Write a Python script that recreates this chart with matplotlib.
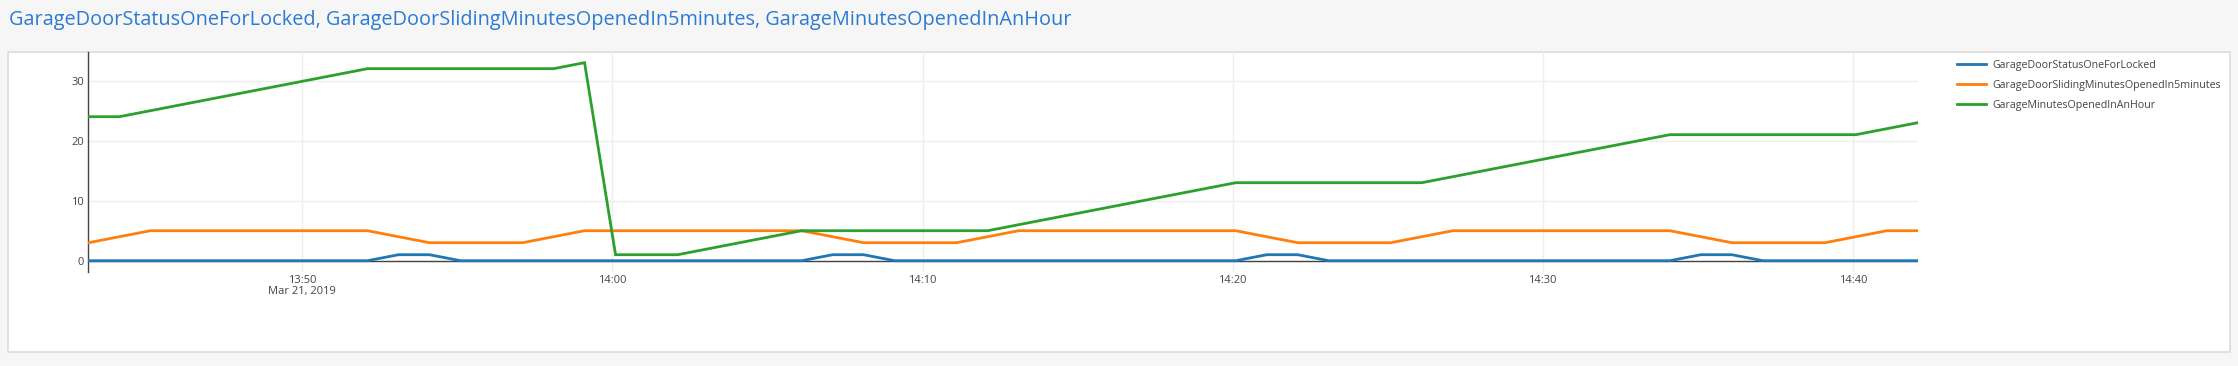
"""
Garage door sensor chart (plotly-style look, drawn with matplotlib)
"""

import matplotlib
matplotlib.use('Agg')
import matplotlib.pyplot as plt
from matplotlib.patches import Rectangle
import pandas as pd

DAY = '2019-03-21 '

# Vertices of each series (time, value)
status_times = ['13:43:06', '13:52:06', '13:53:06', '13:54:06', '13:55:06',
                '14:06:06', '14:07:06', '14:08:06', '14:09:06',
                '14:20:06', '14:21:06', '14:22:06', '14:23:06',
                '14:34:06', '14:35:06', '14:36:06', '14:37:06', '14:42:06']
status_values = [0, 0, 1, 1, 0,
                 0, 1, 1, 0,
                 0, 1, 1, 0,
                 0, 1, 1, 0, 0]

sliding_times = ['13:43:06', '13:45:06', '13:52:06', '13:54:06', '13:57:06',
                 '13:59:06', '14:06:06', '14:08:06', '14:11:06', '14:13:06',
                 '14:20:06', '14:22:06', '14:25:06', '14:27:06', '14:34:06',
                 '14:36:06', '14:39:06', '14:41:06', '14:42:06']
sliding_values = [3, 5, 5, 3, 3,
                  5, 5, 3, 3, 5,
                  5, 3, 3, 5, 5,
                  3, 3, 5, 5]

hour_times = ['13:43:06', '13:44:06', '13:52:06', '13:58:06', '13:59:06',
              '14:00:06', '14:02:06', '14:06:06', '14:12:06', '14:20:06',
              '14:26:06', '14:34:06', '14:40:06', '14:42:06']
hour_values = [24, 24, 32, 32, 33,
               1, 1, 5, 5, 13,
               13, 21, 21, 23]

series_names = ['GarageDoorStatusOneForLocked',
                'GarageDoorSlidingMinutesOpenedIn5minutes',
                'GarageMinutesOpenedInAnHour']
colors = ['#1f77b4', '#ff7f0e', '#2ca02c']

x_ticks = ['13:50', '14:00', '14:10', '14:20', '14:30', '14:40']
x_tick_labels = ['13:50\nMar 21, 2019', '14:00', '14:10', '14:20', '14:30', '14:40']
y_ticks = [0, 10, 20, 30]


def to_dt(times):
    return pd.to_datetime([DAY + t for t in times])


W, H = 2238, 366
fig = plt.figure(figsize=(W / 100, H / 100), dpi=100)
fig.patch.set_facecolor('#f6f6f6')

# white panel with light border, behind the axes
panel = Rectangle((8 / W, 1 - 352 / H), (2230 - 8) / W, (352 - 51.5) / H,
                  transform=fig.transFigure, facecolor='white',
                  edgecolor='#dcdcdc', linewidth=1.2, zorder=-5)
fig.patches.append(panel)

fig.text(9 / W, 1 - 20.5 / H, ', '.join(series_names), color='#2b7bd3',
         fontsize=14.3, family='Open Sans', va='center', ha='left')

ax = fig.add_axes([88.4 / W, 1 - 271.7 / H, (1917.9 - 88.4) / W, (271.7 - 51.7) / H])
ax.set_facecolor('none')
ax.set_zorder(1)

all_series = [(status_times, status_values),
              (sliding_times, sliding_values),
              (hour_times, hour_values)]
ax.axhline(0, color='#444444', linewidth=1, zorder=1)
for (t, v), name, c in zip(all_series, series_names, colors):
    ax.plot(to_dt(t), v, color=c, linewidth=2, label=name, zorder=3,
            solid_joinstyle='miter')

ax.set_xlim(pd.Timestamp(DAY + '13:43:06'), pd.Timestamp(DAY + '14:42:06'))
ax.set_ylim(-1.83, 34.83)

ax.set_xticks(to_dt([t + ':00' for t in x_ticks]))
ax.set_xticklabels(x_tick_labels, linespacing=1.0)
ax.set_yticks(y_ticks)
ax.grid(True, color='#eeeeee', linewidth=1)
ax.set_axisbelow(True)

for side in ['top', 'right', 'bottom']:
    ax.spines[side].set_visible(False)
ax.spines['left'].set_color('#444444')
ax.spines['left'].set_linewidth(1)
ax.tick_params(length=0, labelcolor='#444444', labelsize=8)
ax.tick_params(axis='x', pad=2.5)
ax.tick_params(axis='y', pad=3)
for lbl in ax.get_xticklabels() + ax.get_yticklabels():
    lbl.set_family('Open Sans')

leg = ax.legend(loc='upper left', bbox_to_anchor=(1957 / W, 1 - 60 / H),
                bbox_transform=fig.transFigure, frameon=False,
                prop={'family': 'Open Sans', 'size': 7.7},
                handlelength=2.7, handletextpad=0.6, labelspacing=0.85,
                borderaxespad=0, borderpad=0)
for t in leg.get_texts():
    t.set_color('#444444')

fig.savefig('out.png', dpi=100, facecolor=fig.get_facecolor())
